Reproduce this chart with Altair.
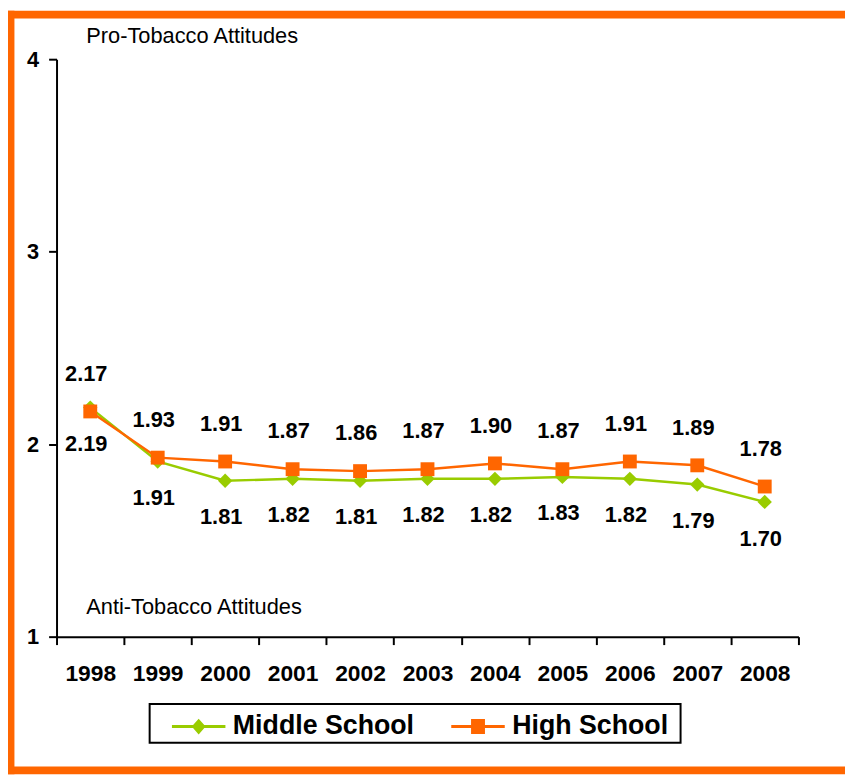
import altair as alt
import pandas as pd

years = ["1998", "1999", "2000", "2001", "2002", "2003", "2004", "2005", "2006", "2007", "2008"]
middle_school = [2.19, 1.91, 1.81, 1.82, 1.81, 1.82, 1.82, 1.83, 1.82, 1.79, 1.70]
high_school = [2.17, 1.93, 1.91, 1.87, 1.86, 1.87, 1.90, 1.87, 1.91, 1.89, 1.78]
series_names = ["Middle School", "High School"]
series_colors = ["#99CC00", "#FF6600"]
y_ticks = [1, 2, 3, 4]
top_note = "Pro-Tobacco Attitudes"
bottom_note = "Anti-Tobacco Attitudes"

FONT = "Liberation Sans"
ORANGE = "#FF6600"

rows = []
for name, vals in zip(series_names, [middle_school, high_school]):
    for yr, v in zip(years, vals):
        rows.append({"year": yr, "value": v, "series": name, "label": f"{v:.2f}"})
df = pd.DataFrame(rows)

x_enc = alt.X(
    "year:N",
    sort=years,
    scale=alt.Scale(type="band", paddingInner=0, paddingOuter=0),
    axis=alt.Axis(
        title=None, labelAngle=0, tickBand="extent", tickSize=8, tickWidth=2,
        tickColor="black", domainColor="black", domainWidth=2,
        labelFont=FONT, labelFontSize=23, labelFontWeight="bold", labelColor="black",
        labelPadding=18,
    ),
)
y_enc = alt.Y(
    "value:Q",
    scale=alt.Scale(domain=[1, 4], nice=False, zero=False),
    axis=alt.Axis(
        title=None, values=y_ticks, grid=False, tickSize=8, tickWidth=2,
        tickColor="black", domainColor="black", domainWidth=2, format="d",
        labelFont=FONT, labelFontSize=22, labelFontWeight="bold", labelColor="black",
        labelPadding=10,
    ),
)

dummy = alt.Chart(pd.DataFrame({"k": [0]}))
base = alt.Chart(df)
layers = []

# orange frame and legend box (decoration)
layers.append(dummy.mark_rect(color=ORANGE).encode(
    x=alt.value(-50), x2=alt.value(-42.5), y=alt.value(-49), y2=alt.value(722)))
layers.append(dummy.mark_rect(color=ORANGE).encode(
    x=alt.value(-50), x2=alt.value(803), y=alt.value(-49), y2=alt.value(-41)))
layers.append(dummy.mark_rect(color=ORANGE).encode(
    x=alt.value(-50), x2=alt.value(803), y=alt.value(714), y2=alt.value(722)))
layers.append(dummy.mark_rect(fill="white", stroke="black", strokeWidth=2).encode(
    x=alt.value(94), x2=alt.value(630), y=alt.value(651), y2=alt.value(690)))

shapes = ["diamond", "square"]
sizes = [210, 196]
label_dy = [37, -38]
for name, col, shp, sz in zip(series_names, series_colors, shapes, sizes):
    sub = base.transform_filter(alt.datum.series == name)
    layers.append(sub.mark_line(color=col, strokeWidth=2.5).encode(x=x_enc, y=y_enc))
    layers.append(sub.mark_point(shape=shp, size=sz, filled=True, color=col, opacity=1).encode(x=x_enc, y=y_enc))

for name, dy in zip(series_names, label_dy):
    sub = base.transform_filter(alt.datum.series == name)
    layers.append(
        sub.mark_text(font=FONT, fontSize=22, fontWeight="bold", color="black", dy=dy, dx=-4,
                      baseline="middle", align="center")
        .encode(x=x_enc, y=y_enc, text="label:N")
    )

legend_paths = [
    "M0.154,-0.115H4.308V0.115H0.154Z M2.231,-0.615L2.769,0L2.231,0.615L1.693,0Z",
    "M0.154,-0.115H4.308V0.115H0.154Z M1.691,-0.58H2.771V0.58H1.691Z",
]
leg = alt.Legend(
    title=None, orient="none", legendX=94, legendY=653, direction="horizontal",
    labelFont=FONT, labelFontSize=27, labelFontWeight="bold", labelColor="black",
    labelLimit=400,
    symbolSize=676, symbolStrokeWidth=0, symbolOpacity=1, labelOffset=50, columnPadding=21,
    padding=7,
)
legend_layer = base.transform_filter("false").mark_point(filled=True).encode(
    x=x_enc, y=y_enc,
    color=alt.Color("series:N", scale=alt.Scale(domain=series_names, range=series_colors), legend=leg),
    shape=alt.Shape("series:N", scale=alt.Scale(domain=series_names, range=legend_paths), legend=leg),
)
layers.append(legend_layer)

layers.append(dummy.mark_text(font=FONT, fontSize=22, align="left", baseline="middle", color="black").encode(
    x=alt.value(30), y=alt.value(-23), text=alt.value(top_note)))
layers.append(dummy.mark_text(font=FONT, fontSize=22, align="left", baseline="middle", color="black").encode(
    x=alt.value(30), y=alt.value(553), text=alt.value(bottom_note)))

chart = alt.layer(*layers).properties(
    width=749, height=583,
    autosize=alt.AutoSizeParams(type="none"),
    padding={"left": 49, "top": 48, "right": 47, "bottom": 138},
    view=alt.ViewBackground(stroke="transparent", strokeWidth=0),
).configure(background="white").configure_view(strokeWidth=0, stroke="transparent")

chart.save("out.html", embed_options={"renderer": "svg", "actions": False})
